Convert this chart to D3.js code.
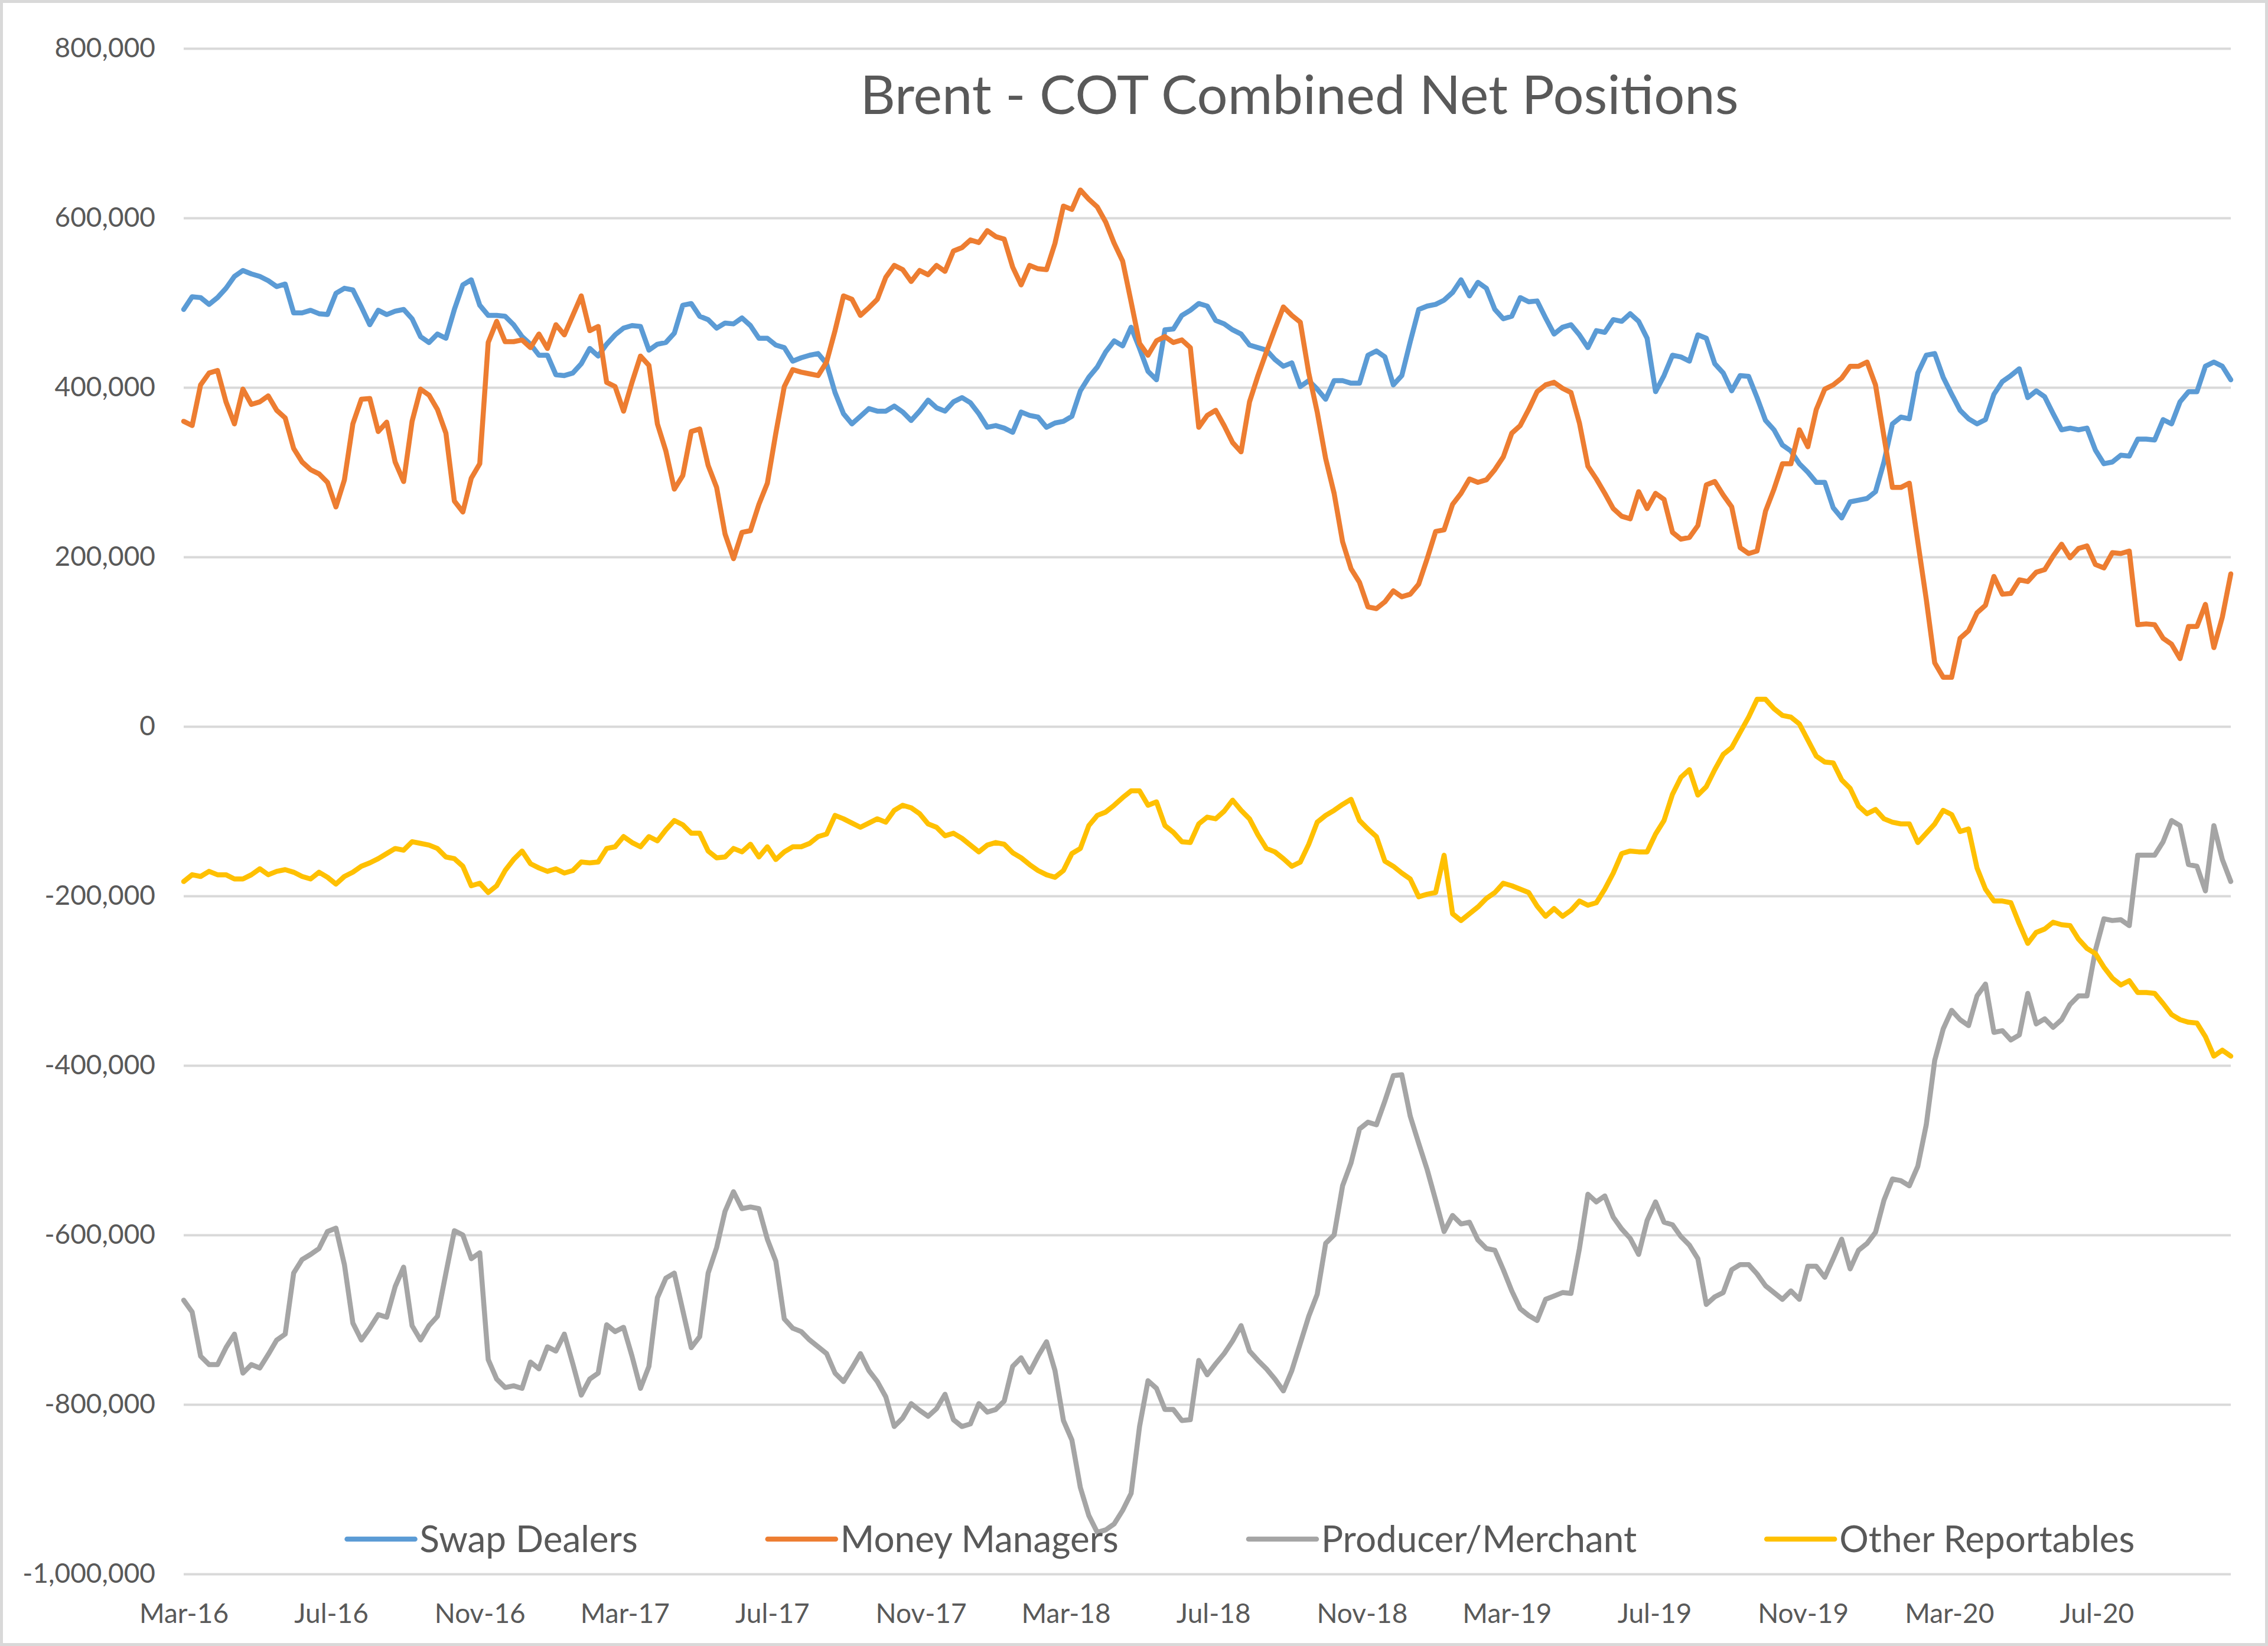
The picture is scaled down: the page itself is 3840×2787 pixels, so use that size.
<!DOCTYPE html>
<html>
<head>
<meta charset="utf-8">
<script src="https://cdn.jsdelivr.net/npm/d3@7"></script>
<style>
  html, body { margin: 0; padding: 0; background: #ffffff; }
  svg { display: block; }
</style>
</head>
<body>
<script>
// ---------------- DATA ----------------
const chartTitle = "Brent - COT Combined Net Positions";
const seriesNames = ["Swap Dealers", "Money Managers", "Producer/Merchant", "Other Reportables"];
const firstReport = "2016-03-01";   // weekly (Tuesday) COT reports
const lastReport  = "2020-10-20";
const xTickLabels = ["Mar-16","Jul-16","Nov-16","Mar-17","Jul-17","Nov-17","Mar-18","Jul-18","Nov-18","Mar-19","Jul-19","Nov-19","Mar-20","Jul-20"];
const yTickValues = [800000, 600000, 400000, 200000, 0, -200000, -400000, -600000, -800000, -1000000];

const swapDealers = [
  492e3,507e3,506e3,498e3,506e3,517e3,531e3,538e3,534e3,531e3,
  526e3,519e3,522e3,488e3,488e3,491e3,487e3,486e3,511e3,517e3,
  515e3,495e3,474e3,491e3,486e3,490e3,492e3,481e3,460e3,453e3,
  463e3,458e3,492e3,521e3,527e3,497e3,485e3,485e3,484e3,474e3,
  460e3,451e3,438e3,438e3,415e3,414e3,417e3,428e3,446e3,437e3,
  451e3,462e3,470e3,473e3,472e3,444e3,451e3,453e3,464e3,497e3,
  499e3,484e3,480e3,470e3,476e3,475e3,482e3,473e3,458e3,458e3,
  450e3,447e3,431e3,435e3,438e3,440e3,428e3,394e3,369e3,357e3,
  366e3,375e3,372e3,372e3,378e3,371e3,361e3,372e3,385e3,376e3,
  372e3,383e3,388e3,382e3,369e3,353e3,355e3,352e3,347e3,371e3,
  367e3,365e3,353e3,358e3,360e3,366e3,396e3,412e3,424e3,442e3,
  455e3,449e3,471e3,446e3,419e3,409e3,468e3,469e3,485e3,491e3,
  499e3,496e3,479e3,475e3,468e3,463e3,450e3,447e3,444e3,433e3,
  425e3,429e3,401e3,408e3,398e3,386e3,408e3,408e3,405e3,405e3,
  438e3,443e3,436e3,403e3,414e3,454e3,492e3,496e3,498e3,503e3,
  512e3,527e3,508e3,524e3,517e3,492e3,481e3,484e3,506e3,501e3,
  502e3,482e3,463e3,471e3,474e3,462e3,447e3,467e3,465e3,480e3,
  478e3,487e3,478e3,458e3,395e3,414e3,438e3,436e3,431e3,462e3,
  458e3,428e3,417e3,396e3,414e3,413e3,388e3,361e3,350e3,332e3,
  325e3,310e3,300e3,288e3,288e3,258e3,246e3,265e3,267e3,269e3,
  277e3,312e3,357e3,365e3,363e3,417e3,438e3,440e3,412e3,392e3,
  373e3,363e3,357e3,362e3,392e3,407e3,414e3,422e3,388e3,396e3,
  389e3,369e3,350e3,352e3,350e3,352e3,326e3,310e3,312e3,320e3,
  319e3,339e3,339e3,338e3,362e3,357e3,383e3,395e3,395e3,425e3,
  430e3,425e3,409e3
];

const moneyManagers = [
  360e3,355e3,403e3,417e3,420e3,383e3,357e3,398e3,380e3,383e3,
  390e3,373e3,364e3,328e3,312e3,303e3,298e3,288e3,259e3,291e3,
  357e3,386e3,387e3,348e3,359e3,312e3,289e3,360e3,398e3,391e3,
  374e3,346e3,266e3,253e3,293e3,310e3,453e3,478e3,454e3,454e3,
  456e3,447e3,463e3,446e3,474e3,462e3,485e3,508e3,467e3,472e3,
  406e3,401e3,372e3,406e3,437e3,426e3,357e3,325e3,280e3,296e3,
  348e3,351e3,308e3,282e3,227e3,198e3,229e3,231e3,262e3,287e3,
  346e3,401e3,421e3,418e3,416e3,414e3,430e3,467e3,508e3,504e3,
  485e3,494e3,504e3,530e3,544e3,539e3,525e3,538e3,533e3,544e3,
  537e3,561e3,565e3,574e3,571e3,585e3,578e3,575e3,542e3,521e3,
  544e3,540e3,539e3,570e3,614e3,610e3,633e3,622e3,613e3,595e3,
  570e3,549e3,501e3,452e3,438e3,455e3,460e3,453e3,456e3,447e3,
  353e3,367e3,373e3,355e3,335e3,324e3,383e3,414e3,442e3,469e3,
  495e3,485e3,477e3,417e3,371e3,316e3,275e3,218e3,186e3,170e3,
  141e3,139e3,147e3,160e3,153e3,156e3,168e3,198e3,230e3,232e3,
  262e3,275e3,292e3,288e3,291e3,303e3,318e3,346e3,355e3,374e3,
  395e3,403e3,406e3,399e3,394e3,358e3,307e3,292e3,275e3,257e3,
  248e3,245e3,277e3,257e3,275e3,268e3,229e3,221e3,223e3,237e3,
  285e3,289e3,273e3,259e3,211e3,204e3,207e3,254e3,280e3,310e3,
  310e3,350e3,330e3,374e3,398e3,403e3,411e3,425e3,425e3,430e3,
  403e3,342e3,282e3,282e3,287e3,218e3,150e3,75e3,58e3,58e3,
  104e3,113e3,134e3,143e3,177e3,156e3,157e3,173e3,171e3,182e3,
  185e3,201e3,215e3,199e3,210e3,213e3,191e3,187e3,205e3,204e3,
  207e3,120e3,121e3,120e3,104e3,97e3,80e3,118e3,118e3,144e3,
  93e3,129e3,180e3
];

const producerMerchant = [
  -677e3,-691e3,-743e3,-753e3,-753e3,-733e3,-717e3,-763e3,-753e3,-757e3,
  -741e3,-724e3,-717e3,-645e3,-629e3,-623e3,-616e3,-596e3,-592e3,-635e3,
  -704e3,-724e3,-710e3,-694e3,-697e3,-661e3,-638e3,-707e3,-724e3,-707e3,
  -696e3,-645e3,-595e3,-600e3,-628e3,-621e3,-747e3,-770e3,-780e3,-778e3,
  -781e3,-750e3,-758e3,-732e3,-737e3,-717e3,-752e3,-789e3,-770e3,-763e3,
  -706e3,-714e3,-709e3,-743e3,-781e3,-755e3,-674e3,-651e3,-645e3,-689e3,
  -733e3,-720e3,-645e3,-615e3,-572e3,-549e3,-569e3,-567e3,-569e3,-605e3,
  -631e3,-699e3,-710e3,-714e3,-724e3,-732e3,-740e3,-763e3,-773e3,-757e3,
  -740e3,-760e3,-773e3,-791e3,-826e3,-816e3,-799e3,-807e3,-814e3,-805e3,
  -788e3,-818e3,-826e3,-823e3,-799e3,-809e3,-806e3,-796e3,-755e3,-745e3,
  -762e3,-743e3,-726e3,-760e3,-819e3,-842e3,-898e3,-931e3,-951e3,-948e3,
  -941e3,-925e3,-905e3,-826e3,-772e3,-781e3,-806e3,-806e3,-819e3,-818e3,
  -748e3,-765e3,-752e3,-740e3,-725e3,-707e3,-737e3,-748e3,-758e3,-770e3,
  -784e3,-760e3,-728e3,-696e3,-670e3,-610e3,-600e3,-542e3,-515e3,-475e3,
  -467e3,-470e3,-442e3,-412e3,-411e3,-460e3,-492e3,-523e3,-559e3,-596e3,
  -577e3,-587e3,-585e3,-606e3,-616e3,-618e3,-641e3,-666e3,-687e3,-695e3,
  -701e3,-676e3,-672e3,-668e3,-669e3,-616e3,-552e3,-561e3,-554e3,-579e3,
  -593e3,-604e3,-623e3,-583e3,-561e3,-585e3,-588e3,-602e3,-612e3,-628e3,
  -682e3,-673e3,-668e3,-641e3,-635e3,-635e3,-646e3,-660e3,-668e3,-676e3,
  -666e3,-676e3,-637e3,-637e3,-650e3,-628e3,-605e3,-640e3,-618e3,-610e3,
  -597e3,-559e3,-534e3,-536e3,-542e3,-519e3,-470e3,-394e3,-357e3,-335e3,
  -346e3,-353e3,-318e3,-304e3,-361e3,-359e3,-370e3,-364e3,-315e3,-351e3,
  -345e3,-355e3,-346e3,-328e3,-318e3,-318e3,-264e3,-227e3,-229e3,-228e3,
  -235e3,-152e3,-152e3,-152e3,-136e3,-111e3,-117e3,-163e3,-165e3,-194e3,
  -117e3,-157e3,-183e3
];

const otherReportables = [
  -183e3,-175e3,-177e3,-171e3,-175e3,-175e3,-180e3,-180e3,-175e3,-168e3,
  -175e3,-171e3,-169e3,-172e3,-177e3,-180e3,-172e3,-178e3,-186e3,-177e3,
  -172e3,-165e3,-161e3,-156e3,-150e3,-144e3,-146e3,-136e3,-138e3,-140e3,
  -144e3,-154e3,-156e3,-165e3,-188e3,-185e3,-196e3,-188e3,-170e3,-157e3,
  -147e3,-162e3,-167e3,-171e3,-168e3,-173e3,-170e3,-160e3,-161e3,-160e3,
  -144e3,-142e3,-130e3,-137e3,-142e3,-130e3,-135e3,-122e3,-111e3,-116e3,
  -126e3,-126e3,-147e3,-155e3,-154e3,-144e3,-148e3,-139e3,-154e3,-142e3,
  -157e3,-148e3,-142e3,-142e3,-138e3,-130e3,-127e3,-105e3,-109e3,-114e3,
  -119e3,-114e3,-109e3,-113e3,-99e3,-93e3,-96e3,-103e3,-115e3,-119e3,
  -129e3,-126e3,-132e3,-140e3,-148e3,-140e3,-137e3,-139e3,-149e3,-155e3,
  -163e3,-170e3,-175e3,-178e3,-170e3,-150e3,-144e3,-117e3,-105e3,-101e3,
  -93e3,-84e3,-76e3,-76e3,-93e3,-89e3,-117e3,-125e3,-136e3,-137e3,
  -115e3,-107e3,-109e3,-100e3,-87e3,-99e3,-109e3,-128e3,-144e3,-148e3,
  -156e3,-165e3,-160e3,-139e3,-113e3,-105e3,-99e3,-92e3,-86e3,-111e3,
  -121e3,-130e3,-159e3,-165e3,-173e3,-180e3,-201e3,-198e3,-196e3,-152e3,
  -221e3,-229e3,-221e3,-213e3,-203e3,-196e3,-185e3,-188e3,-192e3,-196e3,
  -212e3,-224e3,-215e3,-224e3,-217e3,-206e3,-211e3,-208e3,-192e3,-173e3,
  -150e3,-147e3,-148e3,-148e3,-127e3,-111e3,-80e3,-60e3,-51e3,-81e3,
  -71e3,-51e3,-33e3,-25e3,-7e3,11e3,32e3,32e3,21e3,13e3,
  11e3,3e3,-16e3,-35e3,-42e3,-43e3,-63e3,-73e3,-94e3,-103e3,
  -98e3,-109e3,-113e3,-115e3,-115e3,-137e3,-126e3,-115e3,-99e3,-104e3,
  -124e3,-121e3,-167e3,-192e3,-206e3,-206e3,-208e3,-233e3,-256e3,-243e3,
  -239e3,-231e3,-234e3,-235e3,-251e3,-262e3,-268e3,-284e3,-297e3,-305e3,
  -300e3,-314e3,-314e3,-315e3,-327e3,-340e3,-346e3,-349e3,-350e3,-366e3,
  -389e3,-382e3,-389e3
];

// ---------------- LAYOUT / STYLE ----------------
const W = 3840, H = 2787;
const plot = { left: 311, right: 3777, top: 82, bottom: 2665 };
const seriesColors = ["#5B9BD5", "#ED7D31", "#A5A5A5", "#FFC000"];
const textColor = "#595959";
const gridColor = "#D9D9D9";
const fontFamily = "Lato, 'Open Sans', sans-serif";

const svg = d3.select("body").append("svg")
  .attr("width", W).attr("height", H)
  .attr("viewBox", `0 0 ${W} ${H}`);

svg.append("rect").attr("x", 0).attr("y", 0).attr("width", W).attr("height", H).attr("fill", "#ffffff");

const parseDay = d3.timeParse("%Y-%m-%d");
const dates = d3.timeTuesday.range(parseDay(firstReport), d3.timeDay.offset(parseDay(lastReport), 1));

const x = d3.scaleTime()
  .domain([dates[0], dates[dates.length - 1]])
  .range([plot.left, plot.right]);

const y = d3.scaleLinear()
  .domain([-1000000, 800000])
  .range([plot.bottom, plot.top]);

const fmt = d3.formatLocale({ decimal: ".", thousands: ",", grouping: [3], currency: ["", ""], minus: "-" }).format(",");

// gridlines + y labels
const yAxis = d3.axisLeft(y).tickValues(yTickValues).tickSize(-(plot.right - plot.left)).tickFormat(fmt).tickPadding(48);
const gY = svg.append("g").attr("transform", `translate(${plot.left},0)`).call(yAxis);
gY.select(".domain").remove();
gY.selectAll(".tick line").attr("stroke", gridColor).attr("stroke-width", 4);
gY.selectAll(".tick text")
  .attr("fill", textColor)
  .style("font-family", fontFamily)
  .style("font-size", "46px");

// x axis labels
const parseTick = d3.timeParse("%b-%y");
const xAxis = d3.axisBottom(x)
  .tickValues(xTickLabels.map(parseTick))
  .tickFormat(d3.timeFormat("%b-%y"))
  .tickSize(0).tickPadding(50);
const gX = svg.append("g").attr("transform", `translate(0,${plot.bottom})`).call(xAxis);
gX.select(".domain").remove();
gX.selectAll(".tick text")
  .attr("fill", textColor)
  .style("font-family", fontFamily)
  .style("font-size", "46px");

// series lines
const allSeries = [swapDealers, moneyManagers, producerMerchant, otherReportables];
const line = d3.line()
  .x((d, i) => x(dates[i]))
  .y(d => y(d));

svg.append("g").selectAll("path")
  .data(allSeries)
  .join("path")
  .attr("d", d => line(d.slice(0, dates.length)))
  .attr("fill", "none")
  .attr("stroke", (d, i) => seriesColors[i])
  .attr("stroke-width", 8.5)
  .attr("stroke-linejoin", "round")
  .attr("stroke-linecap", "round");

// title
svg.append("text")
  .attr("x", 2200).attr("y", 193)
  .attr("text-anchor", "middle")
  .attr("fill", textColor)
  .style("font-family", fontFamily)
  .style("font-size", "92px")
  .text(chartTitle);

// legend
const legendY = 2606, legendCenter = 2101, swatch = 115, swGap = 8, itemGap = 220;
const lg = svg.append("g");
const items = lg.selectAll("g").data(seriesNames).join("g");
items.append("line")
  .attr("x1", 0).attr("x2", swatch).attr("y1", 0).attr("y2", 0)
  .attr("stroke", (d, i) => seriesColors[i]).attr("stroke-width", 8.5).attr("stroke-linecap", "round");
items.append("text")
  .attr("x", swatch + swGap).attr("y", 0).attr("dy", "0.35em")
  .attr("fill", textColor)
  .style("font-family", fontFamily)
  .style("font-size", "62px")
  .text(d => d);
const widths = [];
items.each(function () { widths.push(swatch + swGap + d3.select(this).select("text").node().getComputedTextLength()); });
const total = d3.sum(widths) + itemGap * (widths.length - 1);
let cx = legendCenter - total / 2;
items.attr("transform", (d, i) => { const t = `translate(${cx},${legendY})`; cx += widths[i] + itemGap; return t; });

// chart border
svg.append("rect")
  .attr("x", 2.5).attr("y", 2.5).attr("width", W - 5).attr("height", H - 5)
  .attr("fill", "none").attr("stroke", gridColor).attr("stroke-width", 5);
</script>
</body>
</html>
